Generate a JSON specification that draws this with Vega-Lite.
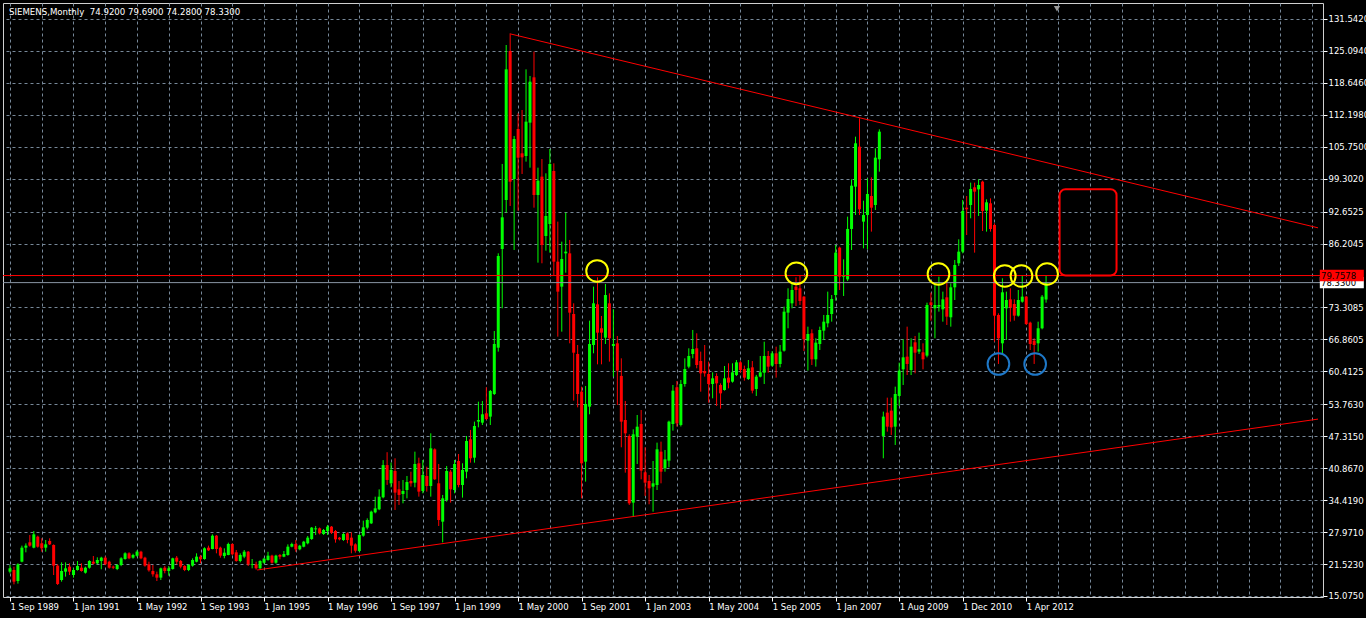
{
  "$schema": "https://vega.github.io/schema/vega-lite/v6.json",
  "width": 1320,
  "height": 594,
  "autosize": "none",
  "padding": {"left": 3, "top": 3, "right": 43, "bottom": 21},
  "background": "#000000",
  "config": {
    "view": {"stroke": "#d0d0d0", "strokeWidth": 1, "fill": "#000000"},
    "font": "DejaVu Sans",
    "axis": {"labelOverlap": false, "labelBound": false, "labelFlush": false, "labelSeparation": 0, "title": null, "tickCount": 200},
    "axisX": {
      "grid": true, "gridColor": "#778899", "gridDash": [3, 3], "gridWidth": 1,
      "domain": false, "tickColor": "#ffffff", "tickSize": 4, "tickWidth": 1,
      "labelAlign": "left", "labelBaseline": "top", "labelColor": "#ffffff",
      "labelFont": "DejaVu Sans", "labelFontSize": 8.5, "labelPadding": 1
    },
    "axisY": {
      "grid": true, "gridColor": "#778899", "gridDash": [3, 3], "gridWidth": 1,
      "domain": false, "tickColor": "#ffffff", "tickSize": 4, "tickWidth": 1,
      "labelAlign": "left", "labelBaseline": "middle", "labelColor": "#ffffff",
      "labelFont": "DejaVu Sans", "labelFontSize": 8.5, "labelPadding": 1
    }
  },
  "title": {
    "text": "SIEMENS,Monthly\u00a0\u00a074.9200 79.6900 74.2800 78.3300",
    "anchor": "start",
    "frame": "group",
    "orient": "top",
    "offset": 0,
    "dx": 6,
    "dy": 21,
    "baseline": "alphabetic",
    "color": "#ffffff",
    "font": "DejaVu Sans",
    "fontSize": 8.6,
    "fontWeight": "normal"
  },
  "datasets": {
    "bars": [
      {"d":"1989-09","o":19.99,"h":21.33,"l":19.65,"c":20.66},
      {"d":"1989-10","o":20.32,"h":20.99,"l":17.43,"c":17.97},
      {"d":"1989-11","o":18.10,"h":21.67,"l":17.57,"c":21.47},
      {"d":"1989-12","o":22.00,"h":25.24,"l":21.87,"c":24.83},
      {"d":"1990-01","o":24.83,"h":25.70,"l":23.89,"c":25.24},
      {"d":"1990-02","o":25.91,"h":27.39,"l":25.03,"c":25.24},
      {"d":"1990-03","o":24.83,"h":28.19,"l":24.70,"c":27.52},
      {"d":"1990-04","o":27.05,"h":27.25,"l":24.83,"c":25.03},
      {"d":"1990-05","o":25.70,"h":26.72,"l":24.02,"c":24.70},
      {"d":"1990-06","o":24.83,"h":26.38,"l":24.02,"c":25.50},
      {"d":"1990-07","o":26.18,"h":26.72,"l":25.37,"c":25.50},
      {"d":"1990-08","o":25.37,"h":25.50,"l":19.31,"c":21.20},
      {"d":"1990-09","o":21.20,"h":21.50,"l":17.30,"c":17.50},
      {"d":"1990-10","o":18.30,"h":21.87,"l":17.97,"c":20.12},
      {"d":"1990-11","o":19.99,"h":21.87,"l":18.98,"c":20.66},
      {"d":"1990-12","o":21.00,"h":21.67,"l":19.31,"c":19.99},
      {"d":"1991-01","o":19.31,"h":20.66,"l":18.78,"c":20.32},
      {"d":"1991-02","o":20.32,"h":22.14,"l":20.20,"c":21.13},
      {"d":"1991-03","o":20.79,"h":21.67,"l":19.99,"c":20.12},
      {"d":"1991-04","o":19.78,"h":21.00,"l":19.60,"c":20.79},
      {"d":"1991-05","o":20.79,"h":22.30,"l":20.60,"c":22.14},
      {"d":"1991-06","o":22.00,"h":23.15,"l":21.47,"c":21.60},
      {"d":"1991-07","o":21.67,"h":22.88,"l":21.47,"c":22.34},
      {"d":"1991-08","o":22.14,"h":23.00,"l":20.46,"c":22.81},
      {"d":"1991-09","o":22.81,"h":23.10,"l":21.30,"c":21.47},
      {"d":"1991-10","o":22.00,"h":22.20,"l":20.60,"c":20.79},
      {"d":"1991-11","o":21.00,"h":21.20,"l":20.50,"c":20.79},
      {"d":"1991-12","o":20.52,"h":21.50,"l":20.30,"c":21.33},
      {"d":"1992-01","o":21.33,"h":22.90,"l":21.10,"c":22.68},
      {"d":"1992-02","o":22.54,"h":23.90,"l":22.40,"c":23.69},
      {"d":"1992-03","o":23.69,"h":23.90,"l":22.50,"c":22.68},
      {"d":"1992-04","o":22.81,"h":23.60,"l":22.60,"c":23.35},
      {"d":"1992-05","o":23.20,"h":24.30,"l":23.00,"c":24.02},
      {"d":"1992-06","o":24.02,"h":24.20,"l":22.50,"c":22.68},
      {"d":"1992-07","o":22.81,"h":23.00,"l":21.00,"c":21.20},
      {"d":"1992-08","o":21.47,"h":22.00,"l":19.99,"c":20.26},
      {"d":"1992-09","o":20.12,"h":21.33,"l":18.98,"c":19.45},
      {"d":"1992-10","o":19.45,"h":19.99,"l":18.10,"c":18.78},
      {"d":"1992-11","o":18.78,"h":20.80,"l":18.30,"c":20.66},
      {"d":"1992-12","o":20.79,"h":21.13,"l":19.65,"c":20.12},
      {"d":"1993-01","o":20.12,"h":21.13,"l":19.18,"c":20.66},
      {"d":"1993-02","o":20.52,"h":22.80,"l":20.40,"c":22.68},
      {"d":"1993-03","o":22.81,"h":23.15,"l":21.47,"c":22.00},
      {"d":"1993-04","o":22.14,"h":22.34,"l":20.66,"c":21.00},
      {"d":"1993-05","o":21.13,"h":21.30,"l":20.10,"c":20.32},
      {"d":"1993-06","o":20.32,"h":21.50,"l":20.10,"c":21.33},
      {"d":"1993-07","o":21.20,"h":22.68,"l":21.00,"c":22.34},
      {"d":"1993-08","o":22.00,"h":23.69,"l":21.87,"c":23.02},
      {"d":"1993-09","o":23.02,"h":23.35,"l":21.67,"c":22.48},
      {"d":"1993-10","o":22.54,"h":24.90,"l":22.40,"c":24.70},
      {"d":"1993-11","o":24.83,"h":25.24,"l":24.16,"c":24.29},
      {"d":"1993-12","o":24.56,"h":27.52,"l":24.50,"c":27.25},
      {"d":"1994-01","o":27.25,"h":27.39,"l":23.69,"c":24.56},
      {"d":"1994-02","o":24.83,"h":25.03,"l":22.81,"c":23.22},
      {"d":"1994-03","o":23.15,"h":24.70,"l":22.68,"c":23.82},
      {"d":"1994-04","o":23.35,"h":25.84,"l":23.30,"c":25.57},
      {"d":"1994-05","o":25.57,"h":25.70,"l":23.30,"c":23.49},
      {"d":"1994-06","o":23.89,"h":24.36,"l":22.00,"c":22.14},
      {"d":"1994-07","o":22.14,"h":23.69,"l":21.87,"c":23.35},
      {"d":"1994-08","o":23.02,"h":24.36,"l":22.70,"c":24.02},
      {"d":"1994-09","o":24.02,"h":24.16,"l":21.13,"c":21.47},
      {"d":"1994-10","o":21.33,"h":22.54,"l":20.66,"c":21.47},
      {"d":"1994-11","o":21.47,"h":22.00,"l":20.40,"c":20.66},
      {"d":"1994-12","o":20.66,"h":22.30,"l":20.50,"c":22.14},
      {"d":"1995-01","o":21.80,"h":22.80,"l":21.60,"c":22.60},
      {"d":"1995-02","o":22.34,"h":24.00,"l":22.20,"c":23.22},
      {"d":"1995-03","o":23.22,"h":23.40,"l":21.60,"c":21.80},
      {"d":"1995-04","o":21.80,"h":23.40,"l":21.60,"c":23.22},
      {"d":"1995-05","o":23.35,"h":23.55,"l":22.48,"c":23.01},
      {"d":"1995-06","o":23.01,"h":24.16,"l":22.90,"c":23.55},
      {"d":"1995-07","o":23.35,"h":25.50,"l":23.20,"c":25.03},
      {"d":"1995-08","o":25.03,"h":25.84,"l":24.90,"c":25.57},
      {"d":"1995-09","o":25.57,"h":26.38,"l":24.00,"c":24.50},
      {"d":"1995-10","o":24.50,"h":25.40,"l":24.30,"c":25.23},
      {"d":"1995-11","o":25.03,"h":26.20,"l":24.90,"c":26.04},
      {"d":"1995-12","o":25.71,"h":27.19,"l":25.50,"c":26.85},
      {"d":"1996-01","o":26.58,"h":29.00,"l":26.40,"c":28.87},
      {"d":"1996-02","o":28.53,"h":29.21,"l":27.39,"c":28.73},
      {"d":"1996-03","o":28.73,"h":28.90,"l":27.50,"c":27.72},
      {"d":"1996-04","o":27.59,"h":28.60,"l":27.40,"c":28.40},
      {"d":"1996-05","o":28.20,"h":29.41,"l":27.39,"c":29.07},
      {"d":"1996-06","o":29.07,"h":29.20,"l":27.59,"c":27.86},
      {"d":"1996-07","o":28.20,"h":28.40,"l":25.84,"c":26.51},
      {"d":"1996-08","o":26.85,"h":27.00,"l":26.30,"c":26.51},
      {"d":"1996-09","o":26.38,"h":27.80,"l":26.20,"c":27.59},
      {"d":"1996-10","o":27.72,"h":27.93,"l":25.71,"c":26.38},
      {"d":"1996-11","o":26.85,"h":27.93,"l":23.69,"c":25.24},
      {"d":"1996-12","o":25.50,"h":25.71,"l":23.82,"c":24.22},
      {"d":"1997-01","o":24.16,"h":27.50,"l":24.00,"c":27.39},
      {"d":"1997-02","o":27.26,"h":30.28,"l":27.05,"c":28.94},
      {"d":"1997-03","o":28.87,"h":30.75,"l":28.53,"c":30.42},
      {"d":"1997-04","o":29.74,"h":32.30,"l":29.60,"c":32.10},
      {"d":"1997-05","o":31.96,"h":35.12,"l":31.76,"c":32.77},
      {"d":"1997-06","o":32.57,"h":36.60,"l":32.40,"c":35.12},
      {"d":"1997-07","o":35.00,"h":42.50,"l":34.80,"c":41.50},
      {"d":"1997-08","o":41.50,"h":44.10,"l":37.50,"c":38.50},
      {"d":"1997-09","o":37.82,"h":42.00,"l":37.00,"c":40.51},
      {"d":"1997-10","o":40.31,"h":42.87,"l":32.44,"c":35.94},
      {"d":"1997-11","o":36.61,"h":38.29,"l":33.45,"c":35.47},
      {"d":"1997-12","o":35.67,"h":38.49,"l":33.78,"c":36.27},
      {"d":"1998-01","o":36.47,"h":39.30,"l":34.79,"c":38.09},
      {"d":"1998-02","o":38.29,"h":40.17,"l":37.15,"c":37.82},
      {"d":"1998-03","o":37.95,"h":44.21,"l":37.01,"c":41.72},
      {"d":"1998-04","o":41.86,"h":43.00,"l":35.13,"c":36.14},
      {"d":"1998-05","o":36.27,"h":42.53,"l":35.80,"c":39.50},
      {"d":"1998-06","o":39.30,"h":41.18,"l":36.14,"c":37.28},
      {"d":"1998-07","o":37.28,"h":47.91,"l":35.13,"c":44.88},
      {"d":"1998-08","o":44.68,"h":44.88,"l":38.50,"c":38.63},
      {"d":"1998-09","o":37.82,"h":41.72,"l":29.21,"c":30.42},
      {"d":"1998-10","o":30.08,"h":35.47,"l":25.90,"c":34.79},
      {"d":"1998-11","o":34.46,"h":41.32,"l":34.12,"c":40.31},
      {"d":"1998-12","o":40.17,"h":40.50,"l":33.92,"c":36.61},
      {"d":"1999-01","o":36.47,"h":42.53,"l":35.80,"c":41.72},
      {"d":"1999-02","o":42.33,"h":43.74,"l":37.01,"c":37.48},
      {"d":"1999-03","o":37.48,"h":41.86,"l":34.93,"c":40.51},
      {"d":"1999-04","o":40.17,"h":47.37,"l":38.83,"c":46.36},
      {"d":"1999-05","o":46.70,"h":48.59,"l":41.99,"c":42.87},
      {"d":"1999-06","o":43.00,"h":50.27,"l":41.99,"c":49.39},
      {"d":"1999-07","o":50.27,"h":54.30,"l":49.12,"c":50.60},
      {"d":"1999-08","o":50.06,"h":54.44,"l":49.59,"c":51.75},
      {"d":"1999-09","o":51.95,"h":57.20,"l":50.60,"c":50.80},
      {"d":"1999-10","o":51.28,"h":56.66,"l":49.59,"c":56.46},
      {"d":"1999-11","o":55.85,"h":68.57,"l":55.65,"c":65.94},
      {"d":"1999-12","o":65.20,"h":84.24,"l":64.40,"c":83.70},
      {"d":"2000-01","o":85.12,"h":102.28,"l":73.14,"c":91.51},
      {"d":"2000-02","o":95.01,"h":126.29,"l":92.45,"c":121.38},
      {"d":"2000-03","o":125.08,"h":128.65,"l":93.80,"c":98.71},
      {"d":"2000-04","o":99.24,"h":107.93,"l":84.92,"c":107.32},
      {"d":"2000-05","o":109.34,"h":112.50,"l":92.85,"c":103.55},
      {"d":"2000-06","o":104.43,"h":113.17,"l":100.26,"c":103.62},
      {"d":"2000-07","o":103.89,"h":121.38,"l":102.75,"c":110.82},
      {"d":"2000-08","o":110.62,"h":120.04,"l":101.53,"c":118.89},
      {"d":"2000-09","o":119.77,"h":124.95,"l":93.46,"c":96.02},
      {"d":"2000-10","o":96.02,"h":101.53,"l":82.36,"c":98.91},
      {"d":"2000-11","o":99.72,"h":103.28,"l":82.23,"c":85.93},
      {"d":"2000-12","o":87.74,"h":100.39,"l":84.78,"c":91.78},
      {"d":"2001-01","o":90.16,"h":105.30,"l":84.38,"c":102.28},
      {"d":"2001-02","o":100.86,"h":102.41,"l":79.87,"c":82.56},
      {"d":"2001-03","o":82.56,"h":90.64,"l":67.42,"c":76.51},
      {"d":"2001-04","o":77.52,"h":86.60,"l":68.43,"c":83.10},
      {"d":"2001-05","o":84.24,"h":92.45,"l":80.34,"c":84.58},
      {"d":"2001-06","o":84.24,"h":86.94,"l":66.08,"c":72.27},
      {"d":"2001-07","o":72.00,"h":74.15,"l":54.51,"c":64.19},
      {"d":"2001-08","o":63.93,"h":65.74,"l":53.16,"c":55.85},
      {"d":"2001-09","o":56.32,"h":57.33,"l":34.79,"c":41.86},
      {"d":"2001-10","o":42.19,"h":57.46,"l":38.16,"c":53.83},
      {"d":"2001-11","o":53.29,"h":70.65,"l":51.75,"c":65.94},
      {"d":"2001-12","o":65.74,"h":77.52,"l":64.06,"c":74.15},
      {"d":"2002-01","o":73.95,"h":79.40,"l":61.84,"c":68.23},
      {"d":"2002-02","o":69.11,"h":71.60,"l":61.84,"c":68.23},
      {"d":"2002-03","o":67.22,"h":78.05,"l":65.94,"c":75.83},
      {"d":"2002-04","o":74.15,"h":76.17,"l":62.38,"c":67.09},
      {"d":"2002-05","o":65.54,"h":72.94,"l":59.35,"c":65.94},
      {"d":"2002-06","o":66.08,"h":67.56,"l":53.63,"c":60.56},
      {"d":"2002-07","o":59.49,"h":63.05,"l":45.09,"c":50.27},
      {"d":"2002-08","o":50.60,"h":54.44,"l":39.97,"c":47.91},
      {"d":"2002-09","o":47.37,"h":47.71,"l":33.45,"c":33.78},
      {"d":"2002-10","o":33.92,"h":48.72,"l":31.09,"c":47.71},
      {"d":"2002-11","o":47.24,"h":51.61,"l":41.72,"c":49.25},
      {"d":"2002-12","o":49.80,"h":52.62,"l":38.63,"c":40.38},
      {"d":"2003-01","o":40.04,"h":45.09,"l":35.26,"c":37.95},
      {"d":"2003-02","o":38.29,"h":39.50,"l":33.58,"c":36.81},
      {"d":"2003-03","o":37.15,"h":42.33,"l":32.10,"c":37.82},
      {"d":"2003-04","o":37.48,"h":46.03,"l":36.47,"c":44.68},
      {"d":"2003-05","o":44.21,"h":46.23,"l":37.82,"c":40.17},
      {"d":"2003-06","o":40.85,"h":44.55,"l":40.17,"c":42.66},
      {"d":"2003-07","o":42.39,"h":50.47,"l":41.05,"c":50.27},
      {"d":"2003-08","o":49.79,"h":57.67,"l":48.45,"c":56.52},
      {"d":"2003-09","o":57.20,"h":58.47,"l":49.26,"c":49.93},
      {"d":"2003-10","o":49.60,"h":58.68,"l":49.30,"c":57.87},
      {"d":"2003-11","o":57.87,"h":63.05,"l":57.33,"c":60.89},
      {"d":"2003-12","o":61.37,"h":65.07,"l":61.03,"c":63.52},
      {"d":"2004-01","o":63.92,"h":68.77,"l":63.05,"c":64.93},
      {"d":"2004-02","o":65.07,"h":68.10,"l":61.03,"c":61.70},
      {"d":"2004-03","o":62.51,"h":64.40,"l":56.32,"c":60.02},
      {"d":"2004-04","o":60.49,"h":65.74,"l":59.35,"c":60.02},
      {"d":"2004-05","o":59.89,"h":62.38,"l":54.10,"c":57.87},
      {"d":"2004-06","o":57.87,"h":60.22,"l":54.98,"c":59.01},
      {"d":"2004-07","o":59.48,"h":60.02,"l":53.43,"c":58.00},
      {"d":"2004-08","o":57.67,"h":58.00,"l":52.89,"c":55.98},
      {"d":"2004-09","o":56.66,"h":61.50,"l":56.52,"c":59.01},
      {"d":"2004-10","o":59.15,"h":62.04,"l":56.99,"c":58.14},
      {"d":"2004-11","o":58.34,"h":62.04,"l":58.14,"c":60.22},
      {"d":"2004-12","o":59.68,"h":62.71,"l":59.48,"c":62.24},
      {"d":"2005-01","o":62.24,"h":62.50,"l":60.15,"c":60.69},
      {"d":"2005-02","o":60.89,"h":61.57,"l":58.54,"c":59.15},
      {"d":"2005-03","o":58.88,"h":62.71,"l":58.68,"c":61.03},
      {"d":"2005-04","o":61.23,"h":62.50,"l":55.98,"c":56.52},
      {"d":"2005-05","o":56.86,"h":59.70,"l":55.45,"c":59.35},
      {"d":"2005-06","o":59.35,"h":63.52,"l":59.20,"c":60.22},
      {"d":"2005-07","o":60.15,"h":66.41,"l":57.87,"c":63.52},
      {"d":"2005-08","o":63.52,"h":64.53,"l":60.15,"c":61.37},
      {"d":"2005-09","o":61.57,"h":64.50,"l":61.37,"c":64.06},
      {"d":"2005-10","o":64.06,"h":65.40,"l":59.15,"c":61.90},
      {"d":"2005-11","o":61.91,"h":65.74,"l":61.23,"c":64.40},
      {"d":"2005-12","o":64.60,"h":73.48,"l":64.40,"c":72.47},
      {"d":"2006-01","o":72.27,"h":77.18,"l":69.11,"c":75.03},
      {"d":"2006-02","o":74.15,"h":78.19,"l":73.14,"c":76.84},
      {"d":"2006-03","o":77.51,"h":79.40,"l":73.61,"c":76.84},
      {"d":"2006-04","o":77.18,"h":79.87,"l":73.82,"c":74.62},
      {"d":"2006-05","o":75.50,"h":75.60,"l":64.53,"c":66.88},
      {"d":"2006-06","o":66.61,"h":69.44,"l":60.56,"c":67.96},
      {"d":"2006-07","o":68.10,"h":68.90,"l":61.70,"c":62.85},
      {"d":"2006-08","o":62.85,"h":67.09,"l":61.37,"c":66.21},
      {"d":"2006-09","o":65.94,"h":69.44,"l":64.73,"c":68.77},
      {"d":"2006-10","o":68.64,"h":71.80,"l":66.75,"c":70.45},
      {"d":"2006-11","o":70.11,"h":76.51,"l":69.31,"c":71.80},
      {"d":"2006-12","o":71.99,"h":75.83,"l":70.45,"c":75.03},
      {"d":"2007-01","o":75.83,"h":85.93,"l":74.69,"c":84.38},
      {"d":"2007-02","o":85.39,"h":85.60,"l":76.84,"c":79.53},
      {"d":"2007-03","o":79.53,"h":83.03,"l":75.63,"c":79.87},
      {"d":"2007-04","o":78.99,"h":91.65,"l":78.66,"c":89.16},
      {"d":"2007-05","o":89.16,"h":99.18,"l":84.92,"c":97.90},
      {"d":"2007-06","o":97.70,"h":107.79,"l":91.98,"c":106.45},
      {"d":"2007-07","o":105.77,"h":111.50,"l":91.98,"c":93.13},
      {"d":"2007-08","o":90.64,"h":94.87,"l":85.25,"c":91.98},
      {"d":"2007-09","o":91.98,"h":99.38,"l":85.05,"c":96.22},
      {"d":"2007-10","o":95.82,"h":99.58,"l":88.62,"c":93.46},
      {"d":"2007-11","o":93.99,"h":105.44,"l":92.99,"c":103.55},
      {"d":"2007-12","o":103.22,"h":109.27,"l":100.73,"c":108.80},
      {"d":"2009-04","o":47.38,"h":52.29,"l":42.87,"c":51.28},
      {"d":"2009-05","o":52.09,"h":55.11,"l":48.25,"c":49.26},
      {"d":"2009-06","o":52.49,"h":55.11,"l":47.58,"c":49.12},
      {"d":"2009-07","o":49.26,"h":57.33,"l":45.56,"c":55.85},
      {"d":"2009-08","o":55.45,"h":62.18,"l":53.43,"c":60.56},
      {"d":"2009-09","o":60.83,"h":66.88,"l":57.67,"c":63.25},
      {"d":"2009-10","o":63.39,"h":69.44,"l":59.68,"c":61.91},
      {"d":"2009-11","o":60.69,"h":67.09,"l":59.68,"c":65.40},
      {"d":"2009-12","o":66.28,"h":67.56,"l":60.02,"c":64.19},
      {"d":"2010-01","o":64.40,"h":68.23,"l":63.93,"c":64.87},
      {"d":"2010-02","o":64.26,"h":66.08,"l":60.83,"c":62.85},
      {"d":"2010-03","o":63.59,"h":74.28,"l":63.25,"c":73.81},
      {"d":"2010-04","o":74.35,"h":76.30,"l":70.65,"c":73.81},
      {"d":"2010-05","o":73.14,"h":77.85,"l":67.09,"c":73.81},
      {"d":"2010-06","o":73.48,"h":79.53,"l":72.47,"c":73.81},
      {"d":"2010-07","o":72.94,"h":76.51,"l":70.45,"c":74.95},
      {"d":"2010-08","o":75.36,"h":78.52,"l":69.78,"c":71.46},
      {"d":"2010-09","o":71.33,"h":78.19,"l":69.44,"c":77.38},
      {"d":"2010-10","o":77.38,"h":82.90,"l":74.82,"c":81.89},
      {"d":"2010-11","o":82.23,"h":87.07,"l":81.69,"c":84.58},
      {"d":"2010-12","o":84.58,"h":95.01,"l":84.24,"c":92.79},
      {"d":"2011-01","o":93.46,"h":95.81,"l":87.94,"c":93.12},
      {"d":"2011-02","o":94.00,"h":98.51,"l":91.31,"c":97.23},
      {"d":"2011-03","o":97.56,"h":98.51,"l":84.38,"c":96.69},
      {"d":"2011-04","o":97.16,"h":99.18,"l":91.78,"c":98.04},
      {"d":"2011-05","o":98.71,"h":98.90,"l":88.75,"c":92.79},
      {"d":"2011-06","o":92.86,"h":95.14,"l":88.62,"c":94.54},
      {"d":"2011-07","o":94.34,"h":95.34,"l":88.62,"c":89.15},
      {"d":"2011-08","o":89.96,"h":90.30,"l":66.41,"c":71.66},
      {"d":"2011-09","o":71.80,"h":72.13,"l":61.91,"c":67.09},
      {"d":"2011-10","o":66.08,"h":79.20,"l":64.06,"c":76.37},
      {"d":"2011-11","o":73.14,"h":76.51,"l":66.75,"c":74.82},
      {"d":"2011-12","o":74.95,"h":77.18,"l":70.45,"c":73.34},
      {"d":"2012-01","o":74.01,"h":74.95,"l":70.65,"c":71.66},
      {"d":"2012-02","o":71.66,"h":76.84,"l":71.46,"c":74.82},
      {"d":"2012-03","o":74.48,"h":79.87,"l":74.28,"c":75.50},
      {"d":"2012-04","o":75.50,"h":75.63,"l":69.78,"c":69.98},
      {"d":"2012-05","o":70.25,"h":70.45,"l":64.73,"c":65.94},
      {"d":"2012-06","o":66.61,"h":67.09,"l":61.91,"c":65.74},
      {"d":"2012-07","o":66.08,"h":70.45,"l":64.40,"c":69.11},
      {"d":"2012-08","o":69.11,"h":75.83,"l":68.90,"c":75.50},
      {"d":"2012-09","o":74.92,"h":79.69,"l":74.28,"c":78.33}
    ],
    "levels": [
      {"name": "bid", "price": 78.33, "label": "78.3300"},
      {"name": "line", "price": 79.7578, "label": "79.7578"}
    ],
    "trends": [
      {"r1": 127.1, "p1": 128.52, "r2": 330.5, "p2": 89.39},
      {"r1": 63.25, "p1": 20.32, "r2": 330.5, "p2": 50.78}
    ],
    "zones": [
      {"r1": 265.4, "r2": 279.75, "p1": 79.76, "p2": 97.17}
    ],
    "marks": [
      {"r": 148.9, "p": 80.68, "kind": "top"},
      {"r": 199.1, "p": 80.21, "kind": "top"},
      {"r": 234.9, "p": 80.07, "kind": "top"},
      {"r": 251.6, "p": 79.67, "kind": "top"},
      {"r": 255.8, "p": 79.67, "kind": "top"},
      {"r": 262.25, "p": 80.07, "kind": "top"},
      {"r": 250.0, "p": 61.9, "kind": "bottom"},
      {"r": 259.25, "p": 61.9, "kind": "bottom"}
    ],
    "shift": [
      {"r": 264.75, "p": 133.6}
    ]
  },
  "layer": [
    {
      "data": {"name": "bars"},
      "transform": [{"window": [{"op": "row_number", "as": "r"}], "sort": [{"field": "d"}]}],
      "layer": [
        {
          "mark": {"type": "rule", "strokeWidth": 1},
          "encoding": {
            "x": {
              "field": "r", "type": "quantitative",
              "scale": {"domain": [0.5, 330.5], "nice": false, "zero": false},
              "axis": {
                "values": [1,9,17,25,33,41,49,57,65,73,81,89,97,105,113,121,129,137,145,153,161,169,177,185,193,201,209,217,225,233,241,249,257,265,273,281,289,297,305,313,321,329],
                "tickCount": 200,
                "tickOpacity": {"condition": {"test": "(datum.value - 1) % 16 === 0 && datum.value <= 257", "value": 1}, "value": 0},
                "labelExpr": "(datum.value - 1) % 16 === 0 && datum.value <= 257 ? ['1 Sep 1989','1 Jan 1991','1 May 1992','1 Sep 1993','1 Jan 1995','1 May 1996','1 Sep 1997','1 Jan 1999','1 May 2000','1 Sep 2001','1 Jan 2003','1 May 2004','1 Sep 2005','1 Jan 2007','1 Aug 2009','1 Dec 2010','1 Apr 2012'][(datum.value - 1) / 16] : ''",
                "labelOverlap": false
              }
            },
            "y": {
              "field": "l", "type": "quantitative",
              "scale": {"domain": [14.873, 134.77], "nice": false, "zero": false},
              "axis": {
                "orient": "right",
                "values": [15.075, 21.523, 27.971, 34.419, 40.867, 47.315, 53.763, 60.4125, 66.8605, 73.3085, 86.2045, 92.6525, 99.302, 105.75, 112.198, 118.646, 125.094, 131.542],
                "tickCount": 200,
                "format": ".4f",
                "labelOverlap": false
              }
            },
            "y2": {"field": "h"},
            "color": {"condition": {"test": "datum.c >= datum.o", "value": "#00ff00"}, "value": "#ff0000"}
          }
        },
        {
          "mark": {"type": "bar", "width": 3},
          "encoding": {
            "x": {"field": "r", "type": "quantitative"},
            "y": {"field": "o", "type": "quantitative"},
            "y2": {"field": "c"},
            "color": {"condition": {"test": "datum.c >= datum.o", "value": "#00ff00"}, "value": "#ff0000"}
          }
        }
      ]
    },
    {
      "data": {"name": "levels"},
      "mark": {"type": "rule", "strokeWidth": 1},
      "encoding": {
        "y": {"field": "price", "type": "quantitative"},
        "color": {"condition": {"test": "datum.name === 'bid'", "value": "#8a96a4"}, "value": "#ff0000"}
      }
    },
    {
      "data": {"name": "trends"},
      "mark": {"type": "rule", "strokeWidth": 1, "color": "#ff0000", "clip": true},
      "encoding": {
        "x": {"field": "r1", "type": "quantitative"},
        "x2": {"field": "r2"},
        "y": {"field": "p1", "type": "quantitative"},
        "y2": {"field": "p2"}
      }
    },
    {
      "data": {"name": "zones"},
      "mark": {"type": "rect", "fillOpacity": 0, "fill": "#000000", "stroke": "#ff0000", "strokeWidth": 2, "cornerRadius": 6},
      "encoding": {
        "x": {"field": "r1", "type": "quantitative"},
        "x2": {"field": "r2"},
        "y": {"field": "p1", "type": "quantitative"},
        "y2": {"field": "p2"}
      }
    },
    {
      "data": {"name": "marks"},
      "mark": {"type": "point", "shape": "circle", "filled": false, "size": 470, "strokeWidth": 2, "opacity": 1},
      "encoding": {
        "x": {"field": "r", "type": "quantitative"},
        "y": {"field": "p", "type": "quantitative"},
        "color": {"condition": {"test": "datum.kind === 'top'", "value": "#ffff00"}, "value": "#1e78c8"}
      }
    },
    {
      "data": {"name": "shift"},
      "mark": {"type": "point", "shape": "triangle-down", "filled": true, "size": 40, "color": "#9a9a9a", "opacity": 1},
      "encoding": {
        "x": {"field": "r", "type": "quantitative"},
        "y": {"field": "p", "type": "quantitative"}
      }
    },
    {
      "data": {"name": "levels"},
      "transform": [{"filter": "datum.name === 'bid'"}],
      "layer": [
        {
          "mark": {"type": "point", "shape": "M-1,-0.26H1V0.26H-1Z", "filled": true, "size": 1936, "color": "#ffffff", "opacity": 1},
          "encoding": {"x": {"datum": 336.5, "type": "quantitative"}, "y": {"field": "price", "type": "quantitative"}}
        },
        {
          "mark": {"type": "text", "align": "left", "baseline": "middle", "dx": 3, "color": "#000000", "font": "DejaVu Sans", "fontSize": 8.5},
          "encoding": {"x": {"datum": 330.5, "type": "quantitative"}, "y": {"field": "price", "type": "quantitative"}, "text": {"field": "label"}}
        }
      ]
    },
    {
      "data": {"name": "levels"},
      "transform": [{"filter": "datum.name === 'line'"}],
      "layer": [
        {
          "mark": {"type": "point", "shape": "M-1,-0.26H1V0.26H-1Z", "filled": true, "size": 1936, "color": "#ff0000", "opacity": 1},
          "encoding": {"x": {"datum": 336.5, "type": "quantitative"}, "y": {"field": "price", "type": "quantitative"}}
        },
        {
          "mark": {"type": "text", "align": "left", "baseline": "middle", "dx": 3, "color": "#000000", "font": "DejaVu Sans", "fontSize": 8.5},
          "encoding": {"x": {"datum": 330.5, "type": "quantitative"}, "y": {"field": "price", "type": "quantitative"}, "text": {"field": "label"}}
        }
      ]
    }
  ]
}
